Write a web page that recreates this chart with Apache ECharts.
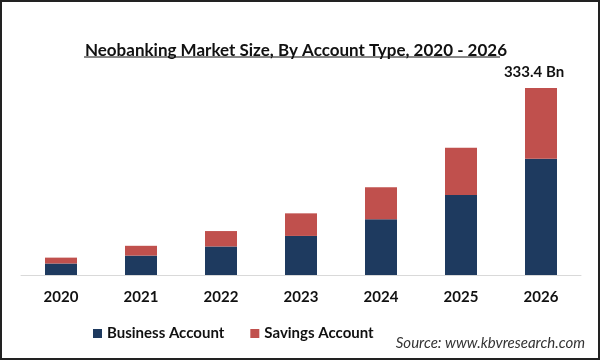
<!DOCTYPE html>
<html><head><meta charset="utf-8">
<script src="https://cdn.jsdelivr.net/npm/echarts@6/dist/echarts.min.js"></script>
<style>
html,body{margin:0;padding:0;background:#fff;}
#c{width:600px;height:360px;box-sizing:border-box;border:2px solid #222;}
</style></head>
<body><div id="c"></div>
<script>
const categories = ['2020','2021','2022','2023','2024','2025','2026'];
const businessAccount = [20.5, 34.6, 50.9, 69.7, 99.5, 142.7, 207.6];
const savingsAccount = [10.5, 17.5, 27.5, 40.3, 57.2, 84.2, 125.8];
const totalLabel = '333.4 Bn';

const chart = echarts.init(document.getElementById('c'));
const font = 'Lato, "Open Sans", sans-serif';
chart.setOption({
  animation: false,
  title: {
    text: 'Neobanking Market Size, By Account Type, 2020 - 2026',
    left: 289, top: 35, textAlign: 'center',
    textStyle: {fontFamily: font, fontSize: 17, fontWeight: 'bold', color: '#111'}
  },
  graphic: [
    {type: 'line', shape: {x1: 82, y1: 55, x2: 498, y2: 55}, style: {stroke: '#111', lineWidth: 1}},
    {type: 'text', right: 13, top: 334, style: {text: 'Source: www.kbvresearch.com', font: 'italic 15px ' + font, fill: '#333'}}
  ],
  legend: {
    left: 86, top: 319, itemWidth: 9, itemHeight: 9, itemGap: 26,
    icon: 'rect',
    textStyle: {fontFamily: font, fontSize: 15, fontWeight: 'bold', color: '#111'}
  },
  grid: {left: 19, right: 17, top: 60, bottom: 83},
  xAxis: {
    type: 'category', data: categories,
    axisLine: {lineStyle: {color: '#d9d9d9', width: 1}},
    axisTick: {show: false},
    axisLabel: {fontFamily: font, fontSize: 15, fontWeight: 'bold', color: '#111', margin: 15}
  },
  yAxis: {type: 'value', min: 0, max: 380, show: false, splitLine: {show: false}},
  series: [
    {name: 'Business Account', type: 'bar', stack: 'a', barWidth: 32, data: businessAccount,
     itemStyle: {color: '#1e3a5f'}},
    {name: 'Savings Account', type: 'bar', stack: 'a', barWidth: 32, data: savingsAccount,
     itemStyle: {color: '#c0504d'},
     label: {show: true, position: 'top', distance: 8, offset: [-7, 0],
       formatter: p => p.dataIndex === categories.length - 1 ? totalLabel : '',
       fontFamily: font, fontSize: 15, fontWeight: 'bold', color: '#111'}}
  ]
});
</script></body></html>
